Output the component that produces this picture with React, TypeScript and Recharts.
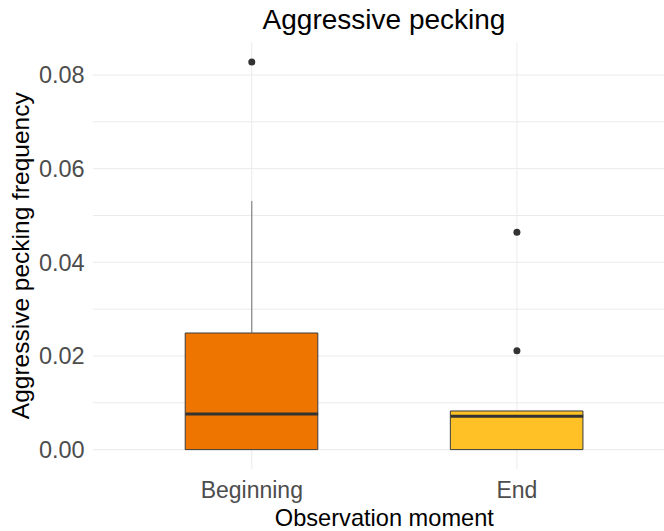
import {
  ComposedChart,
  Bar,
  Cell,
  Scatter,
  XAxis,
  YAxis,
  CartesianGrid,
  ReferenceLine,
  Label,
} from 'recharts';

const categories = ['Beginning', 'End'];
const lowerWhisker = [0, 0];
const q1 = [0, 0];
const median = [0.0076, 0.0071];
const q3 = [0.0249, 0.00825];
const upperWhisker = [0.0531, 0.00825];
const outliers = [[0.0828], [0.0464, 0.0211]];
const boxColors = ['#EE7600', '#FFC125'];

const xTicks = [1, 2];
const yTicks = [0, 0.01, 0.02, 0.03, 0.04, 0.05, 0.06, 0.07, 0.08];

const FONT = '"Liberation Sans", Arial, sans-serif';

const boxData = categories.map((name, i) => ({ x: i + 1, name, box: [q1[i], q3[i]] }));
const outlierData = outliers.flatMap((vals, i) => vals.map((v) => ({ x: i + 1, y: v })));

export default function App() {
  return (
    <div style={{ position: 'absolute', left: 0, top: 0, width: 664, height: 531, overflow: 'hidden', background: '#fff', fontFamily: FONT }}>
      <div
        style={{
          position: 'absolute',
          left: 384,
          top: 6,
          transform: 'translateX(-50%)',
          fontSize: 28,
          lineHeight: '28px',
          whiteSpace: 'nowrap',
          color: '#000',
        }}
      >
        Aggressive pecking
      </div>
      <ComposedChart
        width={676}
        height={531}
        data={boxData}
        margin={{ top: 42.5, right: 0, bottom: 0, left: 0 }}
        style={{ fontFamily: FONT }}
      >
        {/* grid only at the tick values (no edge lines) */}
        <CartesianGrid stroke="#ebebeb" strokeWidth={1} syncWithTicks />
        <XAxis
          type="number"
          dataKey="x"
          domain={[0.4, 2.6]}
          allowDataOverflow
          ticks={xTicks}
          interval={0}
          tickFormatter={(v) => categories[v - 1]}
          axisLine={false}
          tickLine={false}
          height={62}
          tick={{ fontSize: 23, fill: '#4d4d4d', dy: 5 }}
        >
          <Label value="Observation moment" position="insideBottom" offset={5} style={{ fontSize: 23.6, fill: '#000' }} />
        </XAxis>
        <YAxis
          type="number"
          domain={[-0.00414, 0.08694]}
          allowDataOverflow
          ticks={yTicks}
          interval={0}
          tickFormatter={(v) => (Math.round(v * 100) % 2 === 0 ? v.toFixed(2) : '')}
          axisLine={false}
          tickLine={false}
          width={92.7}
          tick={{ fontSize: 23.5, fill: '#4d4d4d' }}
        >
          <Label
            value="Aggressive pecking frequency"
            angle={-90}
            position="insideLeft"
            offset={20}
            style={{ fontSize: 24.5, fill: '#000', textAnchor: 'middle' }}
          />
        </YAxis>
        <Bar dataKey="box" barSize={132.6} stroke="#3a3a3a" strokeWidth={1} isAnimationActive={false}>
          {boxData.map((_d, i) => (
            <Cell key={`c-${i}`} fill={boxColors[i]} />
          ))}
        </Bar>
        {/* whiskers */}
        {categories.map((_c, i) => (
          <ReferenceLine
            key={`wu-${i}`}
            segment={[{ x: i + 1, y: q3[i] }, { x: i + 1, y: upperWhisker[i] }]}
            stroke="#6e6e6e"
            strokeWidth={1}
          />
        ))}
        {categories.map((_c, i) => (
          <ReferenceLine
            key={`wl-${i}`}
            segment={[{ x: i + 1, y: lowerWhisker[i] }, { x: i + 1, y: q1[i] }]}
            stroke="#6e6e6e"
            strokeWidth={1}
          />
        ))}
        {/* medians */}
        {categories.map((_c, i) => (
          <ReferenceLine
            key={`m-${i}`}
            segment={[{ x: i + 1 - 0.25, y: median[i] }, { x: i + 1 + 0.25, y: median[i] }]}
            stroke="#333333"
            strokeWidth={3}
          />
        ))}
        <Scatter
          data={outlierData}
          dataKey="y"
          isAnimationActive={false}
          shape={(p: any) => <circle cx={p.cx} cy={p.cy} r={3.5} fill="#333333" />}
        />
      </ComposedChart>
    </div>
  );
}
